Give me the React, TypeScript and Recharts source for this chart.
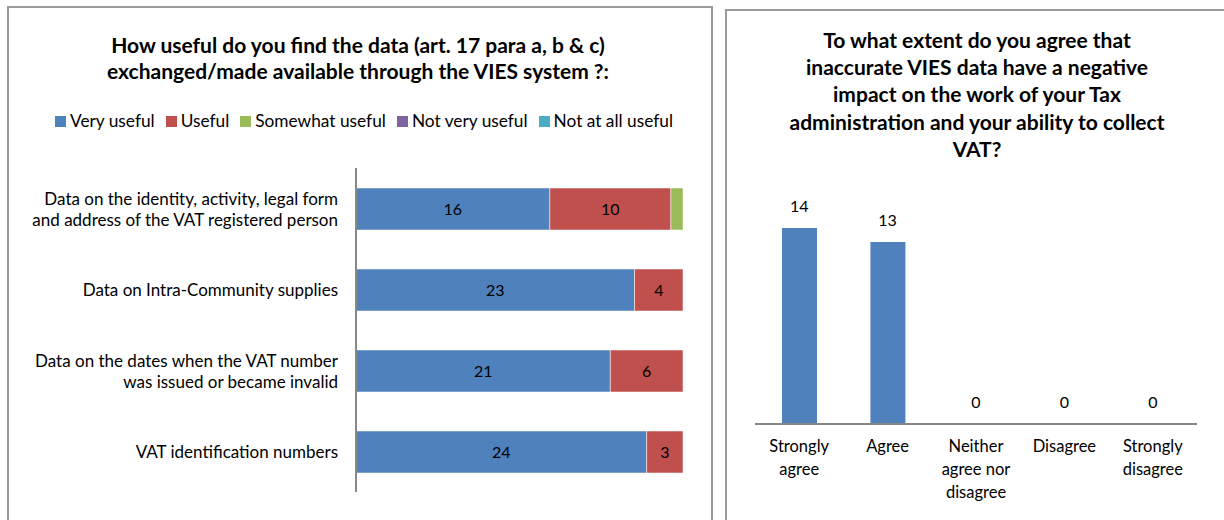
import { BarChart, Bar, XAxis, YAxis, LabelList, ComposedChart, Line } from "recharts"

const FONT = "Lato, 'Open Sans', sans-serif"

// left chart: usefulness of VIES data
const usefulTitle = [
  "How useful do you find the data (art. 17 para a, b & c)",
  "exchanged/made available through the VIES system ?:",
]
const dataTypes = [
  "Data on the identity, activity, legal form|and address of the VAT registered person",
  "Data on Intra-Community supplies",
  "Data on the dates when the VAT number|was issued or became invalid",
  "VAT identification numbers",
]
const veryUseful = [16, 23, 21, 24]
const useful = [10, 4, 6, 3]
const somewhatUseful = [1, 0, 0, 0]
const notVeryUseful = [0, 0, 0, 0]
const notAtAllUseful = [0, 0, 0, 0]

// right chart: impact of inaccurate data
const impactTitle = [
  "To what extent do you agree that",
  "inaccurate VIES data have a negative",
  "impact on the work of your Tax",
  "administration and your ability to collect",
  "VAT?",
]
const answers = ["Strongly|agree", "Agree", "Neither|agree nor|disagree", "Disagree", "Strongly|disagree"]
const answerCounts = [14, 13, 0, 0, 0]

const series = [
  { key: "veryUseful", name: "Very useful", color: "#4F81BD", values: veryUseful, label: true },
  { key: "useful", name: "Useful", color: "#C0504D", values: useful, label: true },
  { key: "somewhat", name: "Somewhat useful", color: "#9BBB59", values: somewhatUseful, label: false },
  { key: "notVery", name: "Not very useful", color: "#8064A2", values: notVeryUseful, label: false },
  { key: "notAtAll", name: "Not at all useful", color: "#4BACC6", values: notAtAllUseful, label: false },
]

const usefulData = dataTypes.map((name, i) => {
  const row: Record<string, string | number> = { name }
  series.forEach((s) => (row[s.key] = s.values[i]))
  return row
})
const impactData = answers.map((name, i) => ({ name, count: answerCounts[i] }))

const hideZero = (v: any) => (Number(v) === 0 ? "" : v)

function CategoryTick({ x, y, payload }: any) {
  const lines = String(payload.value).split("|")
  const lh = 21
  const start = y - ((lines.length - 1) * lh) / 2
  return (
    <text x={x - 10} y={start} textAnchor="end" fontSize={17} fill="#000" fontFamily={FONT}>
      {lines.map((l, i) => (
        <tspan key={i} x={x - 10} y={start + i * lh} dominantBaseline="central">
          {l}
        </tspan>
      ))}
    </text>
  )
}

function AnswerTick({ x, y, payload }: any) {
  const lines = String(payload.value).split("|")
  return (
    <text x={x} y={y} textAnchor="middle" fontSize={16.5} fill="#000" fontFamily={FONT}>
      {lines.map((l, i) => (
        <tspan key={i} x={x} y={y + 14 + i * 23} dominantBaseline="central">
          {l}
        </tspan>
      ))}
    </text>
  )
}

const boxStyle: React.CSSProperties = {
  position: "absolute",
  border: "2px solid #9a9a9a",
  boxSizing: "border-box",
  pointerEvents: "none",
}

const titleStyle: React.CSSProperties = {
  position: "absolute",
  fontFamily: FONT,
  fontWeight: 700,
  fontSize: 21,
  textAlign: "center",
  color: "#000",
  whiteSpace: "nowrap",
}

export default function App() {
  return (
    <div style={{ position: "fixed", left: 0, top: 0, width: 1224, height: 520, overflow: "hidden", background: "#fff" }}>
      <div style={{ ...titleStyle, left: 8, width: 700, top: 32, lineHeight: "26px" }}>
        {usefulTitle.map((t) => (
          <div key={t}>{t}</div>
        ))}
      </div>

      <div
        style={{
          position: "absolute",
          left: 55,
          top: 110,
          display: "flex",
          gap: 11,
          fontFamily: FONT,
          fontSize: 17.3,
          lineHeight: "22px",
          whiteSpace: "nowrap",
        }}
      >
        {series.map((s) => (
          <div key={s.key} style={{ display: "flex", alignItems: "center" }}>
            <span style={{ width: 11, height: 11, background: s.color, marginRight: 4, display: "inline-block" }} />
            {s.name}
          </div>
        ))}
      </div>

      <div style={{ position: "absolute", left: 0, top: 0 }}>
        <BarChart
          width={712}
          height={520}
          data={usefulData}
          layout="vertical"
          margin={{ top: 168, right: 29, bottom: 28, left: 0 }}
          barSize={42}
        >
          <XAxis type="number" domain={[0, 27]} hide />
          <YAxis
            type="category"
            dataKey="name"
            width={356}
            axisLine={{ stroke: "#888", strokeWidth: 2 }}
            tickLine={false}
            tick={<CategoryTick />}
            interval={0}
          />
          {series.map((s) => (
            <Bar key={s.key} dataKey={s.key} name={s.name} stackId="a" fill={s.color} stroke="#fff" strokeOpacity={0.5} isAnimationActive={false}>
              {s.label && (
                <LabelList dataKey={s.key} position="center" formatter={hideZero} fill="#000" fontSize={16} fontFamily={FONT} />
              )}
            </Bar>
          ))}
        </BarChart>
      </div>

      <div style={{ ...titleStyle, left: 727, width: 500, top: 26, lineHeight: "27.2px" }}>
        {impactTitle.map((t) => (
          <div key={t}>{t}</div>
        ))}
      </div>

      <div style={{ position: "absolute", left: 727, top: 0 }}>
        <ComposedChart
          width={497}
          height={520}
          data={impactData}
          margin={{ top: 200, right: 27, bottom: 0, left: 28 }}
          barSize={35}
        >
          <XAxis
            dataKey="name"
            height={96}
            axisLine={{ stroke: "#888", strokeWidth: 2 }}
            tickLine={false}
            tick={<AnswerTick />}
            interval={0}
          />
          <YAxis domain={[0, 16]} hide />
          <Bar dataKey="count" fill="#4F81BD" isAnimationActive={false} />
          <Line
            dataKey="count"
            stroke="none"
            dot={false}
            activeDot={false}
            isAnimationActive={false}
            label={{ position: "top", offset: 16, fill: "#000", fontSize: 16, fontFamily: FONT }}
          />
        </ComposedChart>
      </div>

      <div style={{ ...boxStyle, left: 7, top: 6, width: 706, height: 540 }} />
      <div style={{ ...boxStyle, left: 725, top: 9, width: 520, height: 540 }} />
    </div>
  )
}
